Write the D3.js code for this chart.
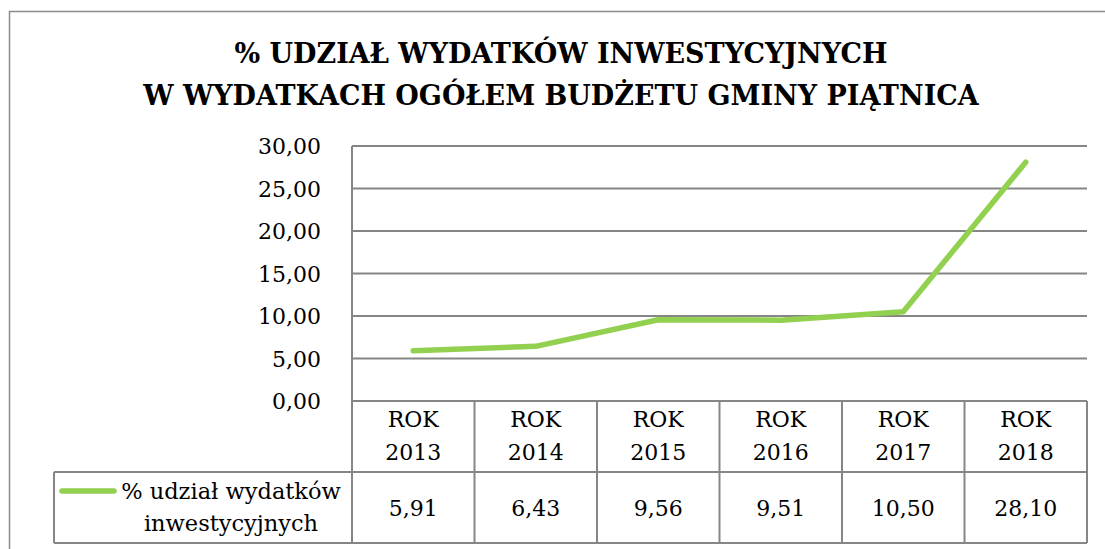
<!DOCTYPE html>
<html lang="pl">
<head>
<meta charset="UTF-8">
<title>% udział wydatków inwestycyjnych</title>
<script src="https://d3js.org/d3.v7.min.js"></script>
<style>
  html, body { margin: 0; padding: 0; background: #fff; }
  svg { display: block; }
  text { font-family: "DejaVu Serif", serif; fill: #000; }
</style>
</head>
<body>
<svg id="chart" width="1105" height="549"></svg>
<script>
// data
const years = ["2013", "2014", "2015", "2016", "2017", "2018"];
const values = [5.91, 6.43, 9.56, 9.51, 10.50, 28.10];
const seriesName = ["% udział wydatków", "inwestycyjnych"];
const titleLines = ["% UDZIAŁ WYDATKÓW INWESTYCYJNYCH", "W WYDATKACH OGÓŁEM BUDŻETU GMINY PIĄTNICA"];
const yTicks = [0, 5, 10, 15, 20, 25, 30];

const svg = d3.select("#chart");
const grid = "#868686";
const green = "#92D050";

const plot = { left: 352, right: 1087, top: 146, bottom: 401 };
const headerBottom = 472, tableBottom = 543, legendLeft = 54;

const fmt = v => v.toFixed(2).replace(".", ",");

const x = d3.scaleBand().domain(years).range([plot.left, plot.right]);
const y = d3.scaleLinear().domain([0, 30]).range([plot.bottom, plot.top]);

// outer chart border
svg.append("rect")
  .attr("x", 9.5).attr("y", 11.5)
  .attr("width", 1200).attr("height", 600)
  .attr("fill", "none").attr("stroke", "#8c8c8c").attr("stroke-width", 1.5);

// title
svg.append("g").selectAll("text")
  .data(titleLines)
  .join("text")
    .attr("x", 561)
    .attr("y", (d, i) => 63 + i * 42)
    .attr("text-anchor", "middle")
    .attr("font-size", 27)
    .attr("font-weight", "bold")
    .text(d => d);

// horizontal gridlines
svg.append("g").selectAll("line")
  .data(yTicks)
  .join("line")
    .attr("x1", plot.left).attr("x2", plot.right)
    .attr("y1", d => y(d)).attr("y2", d => y(d))
    .attr("stroke", grid).attr("stroke-width", 2);

// y tick labels
svg.append("g").selectAll("text")
  .data(yTicks)
  .join("text")
    .attr("x", 321)
    .attr("y", d => y(d) + 8)
    .attr("text-anchor", "end")
    .attr("font-size", 22)
    .text(d => fmt(d));

// data table lines
const tbl = svg.append("g").attr("stroke", grid).attr("stroke-width", 2);
tbl.append("line")
  .attr("x1", plot.left).attr("x2", plot.left)
  .attr("y1", plot.top).attr("y2", tableBottom);
tbl.selectAll("line.v")
  .data(years)
  .join("line").attr("class", "v")
    .attr("x1", d => x(d) + x.bandwidth()).attr("x2", d => x(d) + x.bandwidth())
    .attr("y1", plot.bottom).attr("y2", tableBottom);
tbl.append("line")
  .attr("x1", legendLeft).attr("x2", plot.right)
  .attr("y1", headerBottom).attr("y2", headerBottom);
tbl.append("line")
  .attr("x1", legendLeft).attr("x2", plot.right)
  .attr("y1", tableBottom).attr("y2", tableBottom);
tbl.append("line")
  .attr("x1", legendLeft).attr("x2", legendLeft)
  .attr("y1", headerBottom).attr("y2", tableBottom);

// header labels
const head = svg.append("g").selectAll("text")
  .data(years)
  .join("text")
    .attr("x", d => x(d) + x.bandwidth() / 2)
    .attr("text-anchor", "middle")
    .attr("font-size", 22);
head.append("tspan").attr("y", 427).attr("x", d => x(d) + x.bandwidth() / 2).text("ROK");
head.append("tspan").attr("y", 460).attr("x", d => x(d) + x.bandwidth() / 2).text(d => d);

// values row
svg.append("g").selectAll("text")
  .data(values)
  .join("text")
    .attr("x", (d, i) => x(years[i]) + x.bandwidth() / 2)
    .attr("y", 516)
    .attr("text-anchor", "middle")
    .attr("font-size", 22)
    .text(d => fmt(d));

// legend key + series name
svg.append("line")
  .attr("x1", 62).attr("x2", 114)
  .attr("y1", 491).attr("y2", 491)
  .attr("stroke", green).attr("stroke-width", 5.5).attr("stroke-linecap", "round");
svg.append("g").selectAll("text")
  .data(seriesName)
  .join("text")
    .attr("x", 231)
    .attr("y", (d, i) => 499 + i * 32)
    .attr("text-anchor", "middle")
    .attr("font-size", 22.5)
    .text(d => d);

// series line
const line = d3.line()
  .x((d, i) => x(years[i]) + x.bandwidth() / 2)
  .y(d => y(d));
svg.append("path")
  .datum(values)
  .attr("d", line)
  .attr("fill", "none")
  .attr("stroke", green)
  .attr("stroke-width", 5.5)
  .attr("stroke-linecap", "round")
  .attr("stroke-linejoin", "round");
</script>
</body>
</html>
